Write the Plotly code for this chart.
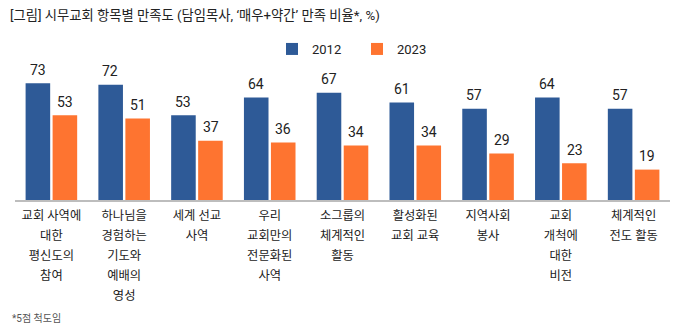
import plotly.graph_objects as go

categories = [
    "교회 사역에<br>대한<br>평신도의<br>참여",
    "하나님을<br>경험하는<br>기도와<br>예배의<br>영성",
    "세계 선교<br>사역",
    "우리<br>교회만의<br>전문화된<br>사역",
    "소그룹의<br>체계적인<br>활동",
    "활성화된<br>교회 교육",
    "지역사회<br>봉사",
    "교회<br>개척에<br>대한<br>비전",
    "체계적인<br>전도 활동",
]
values_2012 = [73, 72, 53, 64, 67, 61, 57, 64, 57]
values_2023 = [53, 51, 37, 36, 34, 34, 29, 23, 19]
series_names = ["2012", "2023"]
colors = ["#2E5A97", "#FE7430"]

FONT = "Roboto, 'Noto Sans CJK KR', sans-serif"
LABEL_PX = 12.3


def wrap(label):
    return "<br>".join(
        f"<span style='font-size:{LABEL_PX}px'>{line}</span>" for line in label.split("<br>")
    )


xs = list(range(len(categories)))
fig = go.Figure()
for name, vals, col in zip(series_names, [values_2012, values_2023], colors):
    fig.add_trace(go.Bar(x=xs, y=vals, name=name, marker=dict(color=col, line=dict(width=0))))

annotations = []
for vals, shift in [(values_2012, -13.75), (values_2023, 13.75)]:
    for x, v in zip(xs, vals):
        annotations.append(dict(
            x=x, y=v, xref="x", yref="y", text=str(v), showarrow=False,
            xshift=shift, yshift=3.5, yanchor="bottom",
            font=dict(family=FONT, size=14, color="#222222"),
        ))

annotations.append(dict(
    x=(10 - 15) / 655, y=(200 - 318) / 128, xref="paper", yref="paper",
    text="*5점 척도임", showarrow=False, xanchor="left", yanchor="middle",
    font=dict(family=FONT, size=10, color="#555555"),
))

fig.update_layout(
    width=684, height=336,
    margin=dict(l=15, r=14, t=72, b=136),
    paper_bgcolor="white", plot_bgcolor="white",
    barmode="group", bargap=0.258, bargroupgap=0.09,
    title=dict(
        text="[그림] 시무교회 항목별 만족도 (담임목사, ‘매우+약간’ 만족 비율*, %)",
        x=10 / 684, xanchor="left", xref="container",
        y=1 - 15 / 336, yanchor="middle", yref="container",
        font=dict(family=FONT, size=13.3, color="#222222"),
    ),
    legend=dict(
        orientation="h", x=(272 - 15) / 655, xanchor="left",
        y=(200 - 49) / 128, yanchor="middle",
        entrywidth=40, entrywidthmode="pixels",
        font=dict(family=FONT, size=13, color="#222222"),
        bgcolor="rgba(0,0,0,0)",
    ),
    xaxis=dict(
        range=[-0.5, 8.5], tickmode="array", tickvals=xs,
        ticktext=[wrap(c) for c in categories],
        showline=True, linecolor="#BDBDBD", linewidth=1.5,
        showgrid=False, zeroline=False, ticks="",
        tickfont=dict(family=FONT, size=15.4, color="#222222"),
    ),
    yaxis=dict(range=[0, 80], visible=False, showgrid=False, zeroline=False),
    annotations=annotations,
    showlegend=True,
)

fig.write_html("out.html")
